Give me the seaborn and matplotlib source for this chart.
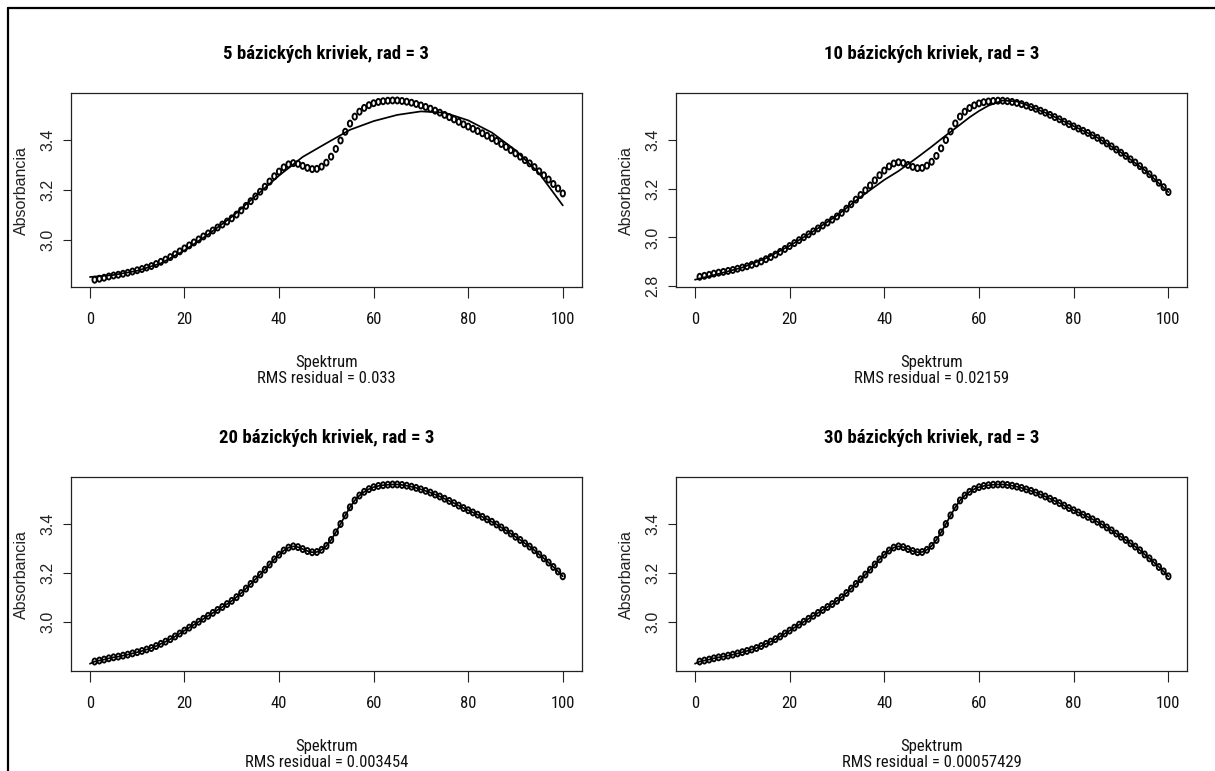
import numpy as np
import pandas as pd
import matplotlib
matplotlib.use("Agg")
import matplotlib.pyplot as plt
import seaborn as sns
from matplotlib.path import Path
from matplotlib.transforms import Affine2D
from matplotlib.lines import Line2D
from matplotlib.ticker import MultipleLocator, FormatStrFormatter

# ---------------- data ----------------
spectrum = list(range(1, 101))
absorbance = [
    2.839, 2.843, 2.847, 2.852, 2.856, 2.859, 2.863, 2.867, 2.872, 2.877,
    2.882, 2.888, 2.894, 2.902, 2.911, 2.920, 2.930, 2.941, 2.953, 2.965,
    2.977, 2.989, 3.001, 3.013, 3.025, 3.037, 3.049, 3.061, 3.073, 3.086,
    3.101, 3.118, 3.136, 3.155, 3.174, 3.193, 3.213, 3.234, 3.255, 3.274,
    3.291, 3.303, 3.308, 3.305, 3.297, 3.289, 3.284, 3.285, 3.294, 3.310,
    3.334, 3.365, 3.399, 3.434, 3.467, 3.495, 3.515, 3.530, 3.541, 3.549,
    3.554, 3.557, 3.559, 3.560, 3.560, 3.558, 3.555, 3.551, 3.546, 3.540,
    3.534, 3.527, 3.519, 3.511, 3.502, 3.493, 3.484, 3.474, 3.464, 3.455,
    3.446, 3.437, 3.428, 3.418, 3.408, 3.397, 3.385, 3.373, 3.360, 3.347,
    3.334, 3.320, 3.307, 3.292, 3.275, 3.259, 3.242, 3.224, 3.206, 3.186,
]

fit5_x = [0, 5, 10, 15, 20, 25, 30, 35, 40, 45, 50, 55, 60, 65, 70, 75, 80, 85, 90, 95, 100]
fit5 = [2.850, 2.858, 2.875, 2.905, 2.957, 3.021, 3.092, 3.175, 3.258, 3.333, 3.388,
        3.442, 3.477, 3.502, 3.516, 3.511, 3.480, 3.431, 3.360, 3.267, 3.138]

fit10_x = [0, 5, 10, 15, 20, 25, 30, 35, 38, 40, 43, 45, 47, 50, 53, 55, 58, 60,
           62, 65, 68, 70, 75, 80, 85, 90, 95, 100]
fit10 = [2.827, 2.851, 2.877, 2.915, 2.966, 3.025, 3.090, 3.166, 3.208, 3.236, 3.272,
         3.300, 3.328, 3.372, 3.418, 3.447, 3.492, 3.518, 3.540, 3.561, 3.557, 3.543,
         3.503, 3.456, 3.409, 3.348, 3.276, 3.186]

# 20 and 30 basis fits lie on the points; they start at x = 0
fit20_x = [0] + spectrum
fit20 = [2.830] + absorbance
fit30_x = [0] + spectrum
fit30 = [2.830] + absorbance

titles = ["5 bázických kriviek, rad = 3", "10 bázických kriviek, rad = 3",
          "20 bázických kriviek, rad = 3", "30 bázických kriviek, rad = 3"]
rms_values = ["0.033", "0.02159", "0.003454", "0.00057429"]
x_label = "Spektrum"
y_label = "Absorbancia"
x_ticks = [0, 20, 40, 60, 80, 100]

# ---------------- style ----------------
sns.set_theme(style="white")
NARROW = ["Roboto Condensed", "Archivo Narrow", "Liberation Sans", "DejaVu Sans"]
REGULAR = ["Liberation Sans", "DejaVu Sans"]
plt.rcParams["font.family"] = NARROW

W, H = 1215, 771
fig = plt.figure(figsize=(W / 100, H / 100), dpi=100)
fig.patch.set_facecolor("white")

# panel boxes in pixels: left, top, right, bottom
boxes = [(71, 93.3, 581.7, 286.9), (676, 93.3, 1187.3, 286.9),
         (71, 477.3, 581.7, 670.9), (676, 477.3, 1187.3, 670.9)]
panels = [(fit5_x, fit5), (fit10_x, fit10), (fit20_x, fit20), (fit30_x, fit30)]

ell = Path.unit_circle().transformed(Affine2D().scale(0.72, 1.0))

for i, ((l, t, r, b), (fx, fy)) in enumerate(zip(boxes, panels)):
    ax = fig.add_axes([l / W, 1 - b / H, (r - l) / W, (b - t) / H])
    ax.set_facecolor("white")
    pts = pd.DataFrame({"x": spectrum, "y": absorbance})
    fit = pd.DataFrame({"x": fx, "y": fy})
    sns.scatterplot(data=pts, x="x", y="y", ax=ax, marker=ell, s=19,
                    facecolor="none", edgecolor="black", linewidth=1.35, zorder=2)
    sns.lineplot(data=fit, x="x", y="y", ax=ax, color="black", linewidth=1.25,
                 estimator=None, sort=False, zorder=3)

    allv = list(absorbance) + list(fy)
    lo, hi = min(allv), max(allv)
    rg = hi - lo
    ax.set_ylim(lo - 0.04 * rg, hi + 0.04 * rg)
    ax.set_xlim(-4, 104)
    ax.set_xticks(x_ticks)
    ax.yaxis.set_major_locator(MultipleLocator(0.2))
    ax.yaxis.set_major_formatter(FormatStrFormatter("%.1f"))

    for s in ax.spines.values():
        s.set_color("#222222")
        s.set_linewidth(0.9)

    ax.tick_params(axis="x", direction="out", length=7.9, width=0.8, color="#222222",
                   pad=10.0, labelsize=12, labelcolor="#111111", bottom=True)
    ax.tick_params(axis="y", direction="out", length=5.5, width=0.8, color="#222222",
                   pad=6.0, labelsize=11.5, labelcolor="#222222", left=True,
                   labelrotation=90)
    for tl in ax.get_xticklabels():
        tl.set_fontfamily(NARROW)
    for tl in ax.get_yticklabels():
        tl.set_fontfamily(REGULAR)
        tl.set_va("center")

    ax.set_title(titles[i], fontsize=13.5, fontweight="bold", family=NARROW,
                 pad=24.5, color="black")
    ax.set_xlabel(f"{x_label}\nRMS residual = {rms_values[i]}", fontsize=12,
                  family=NARROW, linespacing=1.05, va="center", color="#111111")
    ax.xaxis.set_label_coords(0.5, -83.5 / (b - t))
    ax.set_ylabel(y_label, fontsize=11.5, family=REGULAR, va="center", color="#222222")
    ax.yaxis.set_label_coords(-50 / (r - l), 0.5)

# outer frame (left and top edges of the captured window)
fig.add_artist(Line2D([7.5 / W, 7.5 / W], [0, 1 - 7.5 / H], transform=fig.transFigure,
                      color="black", linewidth=1.6))
fig.add_artist(Line2D([7.5 / W, 1], [1 - 7.5 / H, 1 - 7.5 / H], transform=fig.transFigure,
                      color="black", linewidth=1.6))

fig.savefig("out.png", dpi=100, facecolor="white")
